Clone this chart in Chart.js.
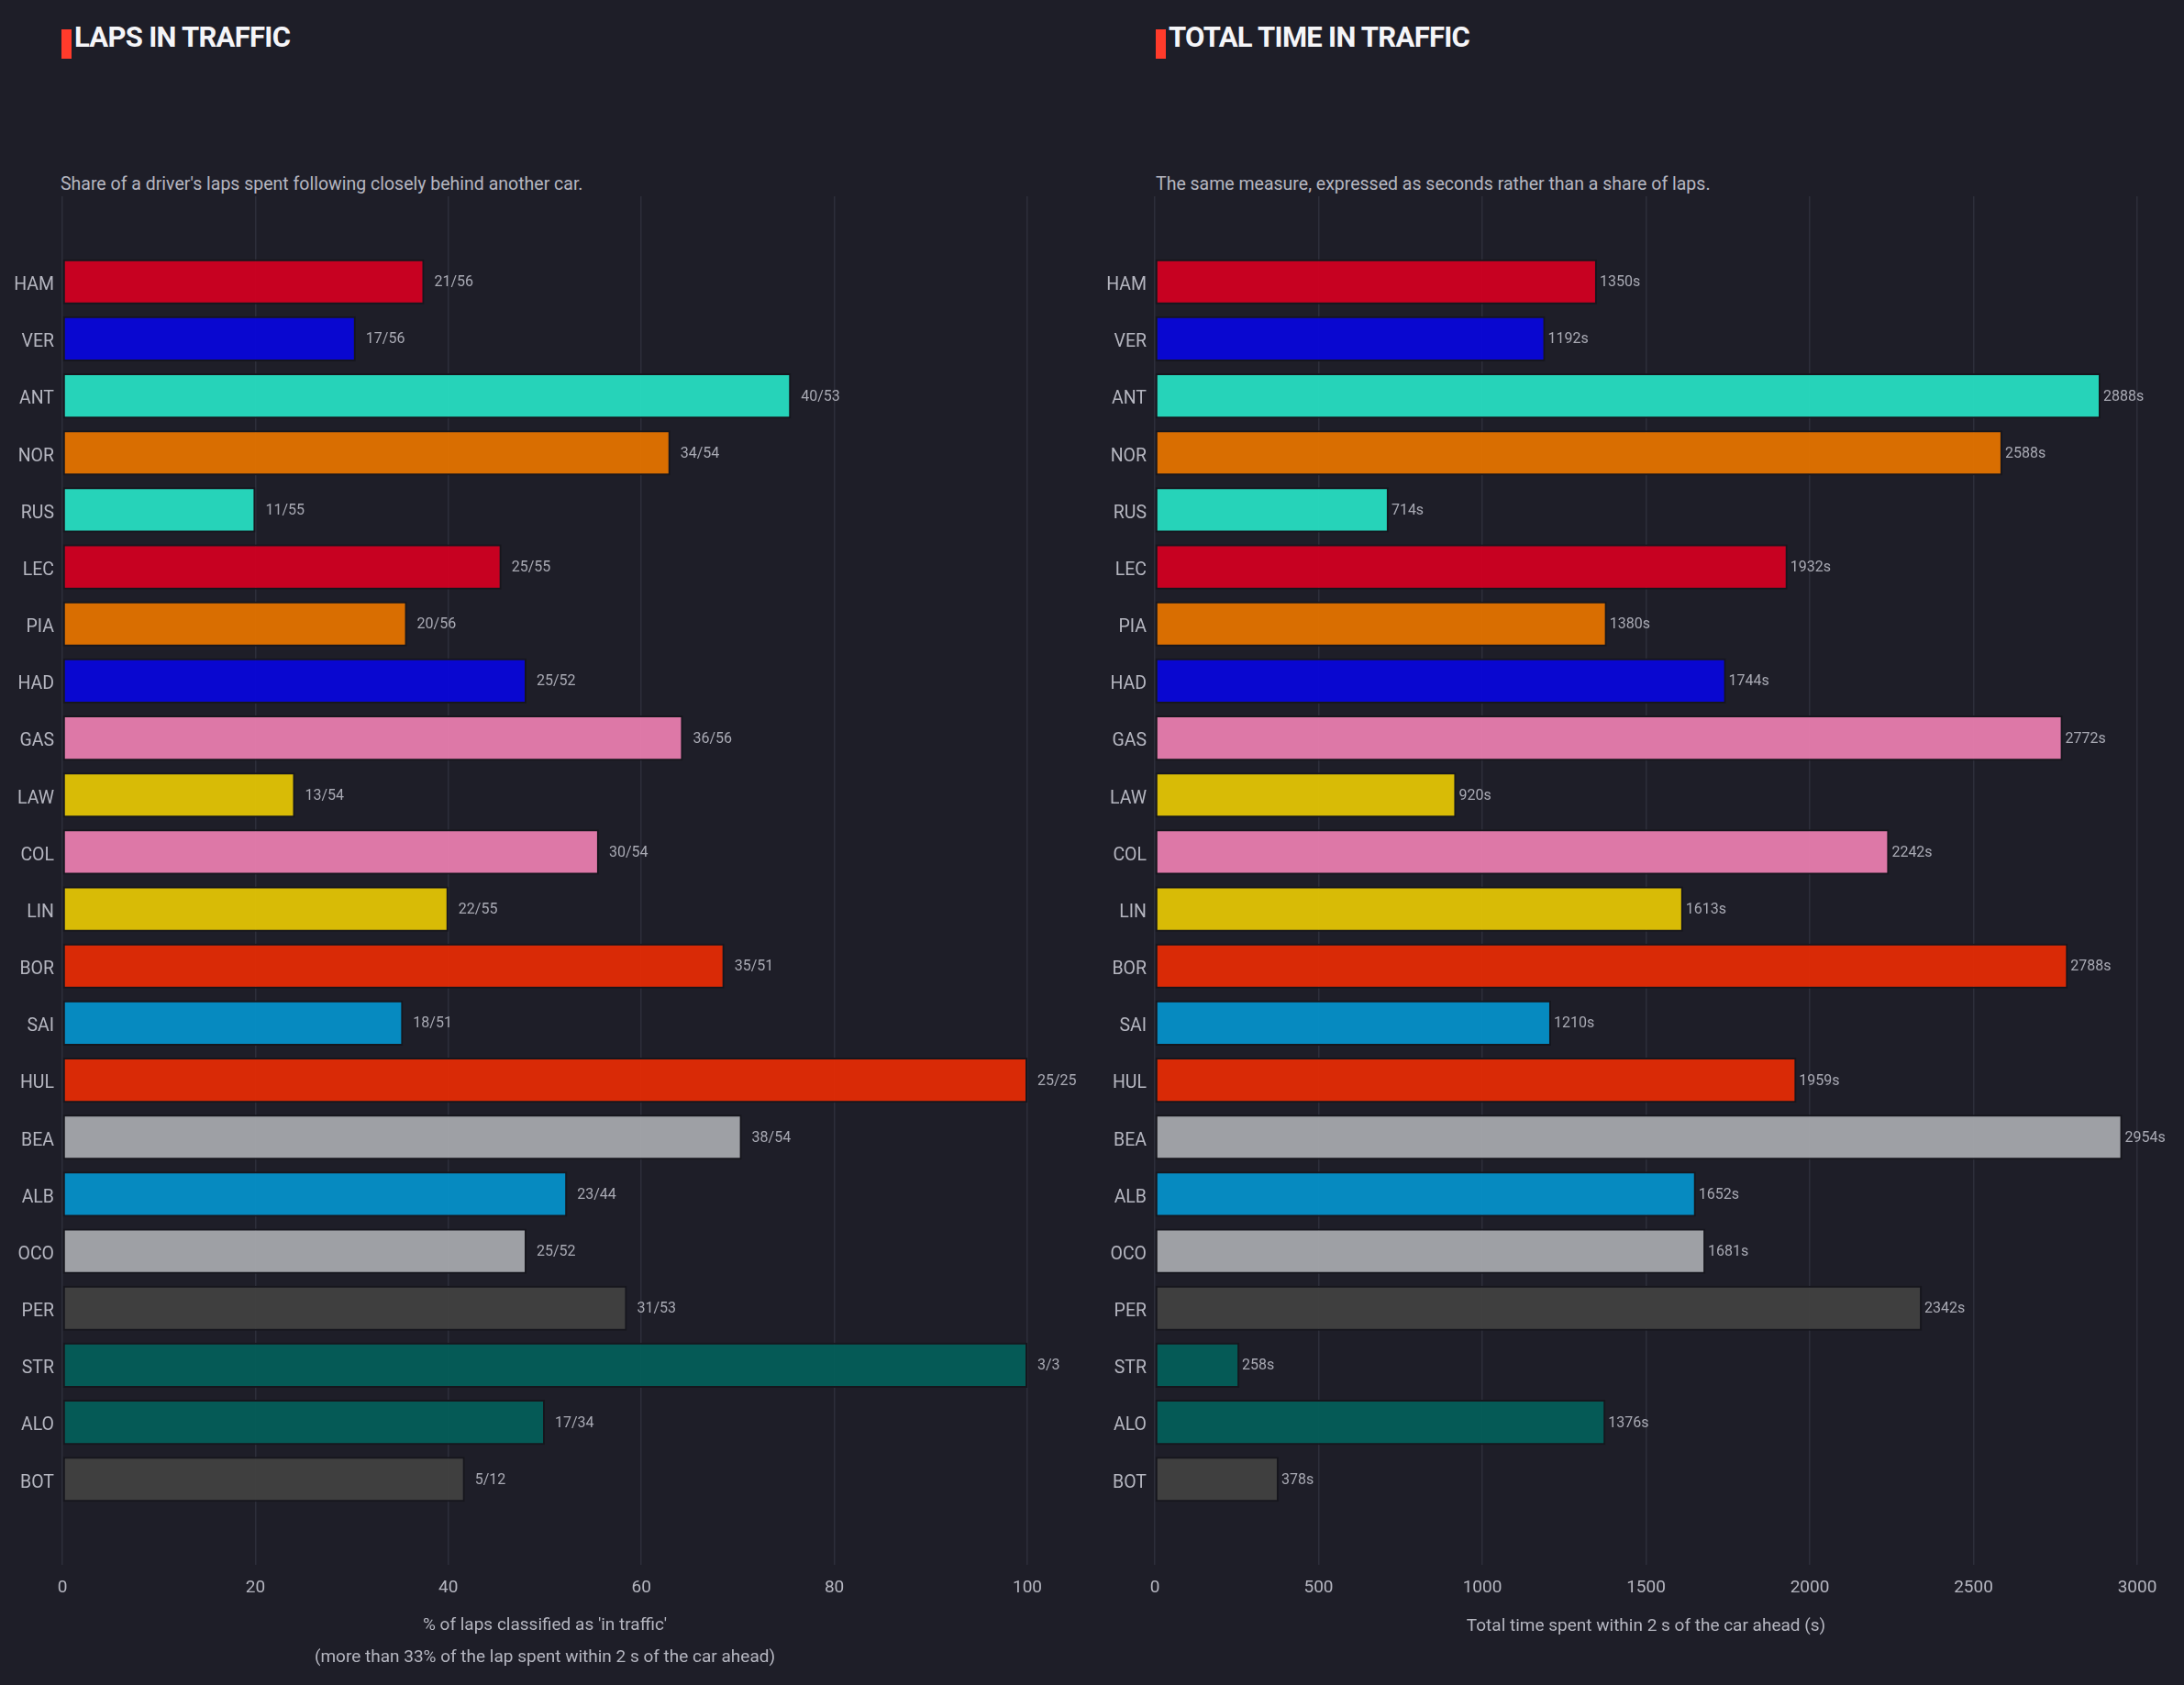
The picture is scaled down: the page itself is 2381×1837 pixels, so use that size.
<!DOCTYPE html>
<html>
<head>
<meta charset="utf-8">
<title>Traffic</title>
<script src="https://cdn.jsdelivr.net/npm/chart.js@4.4.0/dist/chart.umd.min.js"></script>
<style>
    html, body { margin: 0; padding: 0; background: #1e1e28; }
    body { width: 2381px; height: 1837px; position: relative; overflow: hidden; font-family: Roboto, "Noto Sans", sans-serif; }
    .head { position: absolute; top: 25px; height: 32px; line-height: 32px; color: #f5f5f8; font-weight: 700; font-size: 31px; letter-spacing: -0.7px; white-space: nowrap; }
    .accent { position: absolute; top: 32px; width: 11px; height: 32px; background: #ff3b2b; }
    .sub { position: absolute; top: 189px; font-size: 19.5px; line-height: 24px; color: #b5b6c0; white-space: nowrap; }
    canvas { position: absolute; top: 0; }
</style>
</head>
<body>
<div class="accent" style="left:67px"></div>
<div class="head" style="left:81px">LAPS IN TRAFFIC</div>
<div class="sub" style="left:66px">Share of a driver's laps spent following closely behind another car.</div>

<div class="accent" style="left:1260px"></div>
<div class="head" style="left:1274px">TOTAL TIME IN TRAFFIC</div>
<div class="sub" style="left:1260px">The same measure, expressed as seconds rather than a share of laps.</div>

<canvas id="lapsChart" width="1190" height="1837" style="left:0"></canvas>
<canvas id="timeChart" width="1191" height="1837" style="left:1190px"></canvas>

<script>
// drivers, top to bottom
var drivers = ['HAM', 'VER', 'ANT', 'NOR', 'RUS', 'LEC', 'PIA', 'HAD', 'GAS', 'LAW', 'COL',
               'LIN', 'BOR', 'SAI', 'HUL', 'BEA', 'ALB', 'OCO', 'PER', 'STR', 'ALO', 'BOT'];

var lapsInTraffic = [21, 17, 40, 34, 11, 25, 20, 25, 36, 13, 30, 22, 35, 18, 25, 38, 23, 25, 31, 3, 17, 5];
var lapsTotal     = [56, 56, 53, 54, 55, 55, 56, 52, 56, 54, 54, 55, 51, 51, 25, 54, 44, 52, 53, 3, 34, 12];

// % of laps in traffic
var pctInTraffic = [37.5, 30.4, 75.5, 63.0, 20.0, 45.5, 35.7, 48.1, 64.3, 24.1, 55.6,
                    40.0, 68.6, 35.3, 100, 70.4, 52.3, 48.1, 58.5, 100, 50.0, 41.7];

// seconds within 2 s of car ahead
var secondsInTraffic = [1350, 1192, 2888, 2588, 714, 1932, 1380, 1744, 2772, 920, 2242,
                        1613, 2788, 1210, 1959, 2954, 1652, 1681, 2342, 258, 1376, 378];

var pctTicks = [0, 20, 40, 60, 80, 100];
var secTicks = [0, 500, 1000, 1500, 2000, 2500, 3000];

var teamColors = ['#cf0021', '#0806d8', '#27dbc0', '#e27200', '#27dbc0', '#cf0021', '#e27200', '#0806d8',
                  '#e67cad', '#e1c205', '#e67cad', '#e1c205', '#e22b05', '#058fc8', '#e22b05', '#a4a6ab',
                  '#058fc8', '#a4a6ab', '#414141', '#045d59', '#045d59', '#414141'];

var GRID = '#2d2e3a';
var TEXT = '#b5b6c0';
var FONT = 'Roboto, "Noto Sans", sans-serif';

// write the value text just past the end of each bar
var barLabels = {
    id: 'barLabels',
    afterDatasetsDraw: function (chart, args, opts) {
        var ctx = chart.ctx;
        var meta = chart.getDatasetMeta(0);
        ctx.save();
        ctx.font = '16px ' + FONT;
        ctx.fillStyle = '#a9aab4';
        ctx.textAlign = 'left';
        ctx.textBaseline = 'middle';
        meta.data.forEach(function (bar, i) {
            ctx.fillText(opts.texts[i], bar.x + opts.gap, bar.y + 1);
        });
        ctx.restore();
    }
};

function makeChart(id, values, texts, ticks, max, gap, axisTitle, titlePad, yWidth, rightPad) {
    var ctx = document.getElementById(id).getContext('2d');
    return new Chart(ctx, {
        type: 'bar',
        data: {
            datasets: [{
                data: drivers.map(function (d, i) { return { x: values[i], y: i }; }),
                backgroundColor: teamColors.map(function (c) { return c + 'f4'; }),
                borderColor: '#16161d',
                borderWidth: 2,
                borderSkipped: false,
                categoryPercentage: 1,
                barPercentage: 0.79
            }]
        },
        options: {
            indexAxis: 'y',
            responsive: false,
            animation: false,
            layout: { padding: { top: 214, right: rightPad, bottom: 0, left: 0 } },
            plugins: {
                legend: { display: false },
                tooltip: { enabled: false },
                barLabels: { texts: texts, gap: gap }
            },
            scales: {
                x: {
                    type: 'linear',
                    min: 0,
                    max: max,
                    offset: false,
                    afterBuildTicks: function (s) { s.ticks = ticks.map(function (v) { return { value: v }; }); },
                    afterFit: function (s) { s.height = 131; },
                    grid: { color: GRID, lineWidth: 1.5, drawTicks: false },
                    border: { display: false },
                    ticks: {
                        color: TEXT,
                        font: { family: FONT, size: 19 },
                        padding: 14,
                        callback: function (v) { return String(v); }
                    },
                    title: {
                        display: true,
                        text: axisTitle,
                        color: TEXT,
                        font: { family: FONT, size: 19, lineHeight: 1.8 },
                        padding: { top: 0, bottom: titlePad }
                    }
                },
                y: {
                    type: 'linear',
                    reverse: true,
                    offset: false,
                    min: -1.5,
                    max: 22.5,
                    afterBuildTicks: function (s) { s.ticks = drivers.map(function (d, i) { return { value: i }; }); },
                    afterFit: function (s) { s.width = yWidth; },
                    grid: { display: false, drawTicks: false, offset: false },
                    border: { display: false },
                    ticks: {
                        color: TEXT,
                        font: { family: FONT, size: 19.5 },
                        padding: 9,
                        labelOffset: 4,
                        autoSkip: false,
                        callback: function (v) { return drivers[v]; }
                    }
                }
            }
        },
        plugins: [barLabels]
    });
}

var lapTexts = lapsInTraffic.map(function (n, i) { return n + '/' + lapsTotal[i]; });
var secTexts = secondsInTraffic.map(function (s) { return s + 's'; });

makeChart('lapsChart', pctInTraffic, lapTexts, pctTicks, 100, 11,
    ["% of laps classified as 'in traffic'", '(more than 33% of the lap spent within 2 s of the car ahead)'],
    13, 68, 70);
makeChart('timeChart', secondsInTraffic, secTexts, secTicks, 3000, 3,
    'Total time spent within 2 s of the car ahead (s)',
    47, 69, 51);
</script>
</body>
</html>
